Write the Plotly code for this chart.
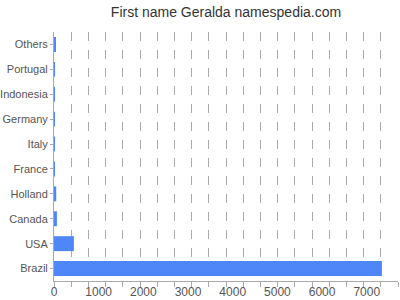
import plotly.graph_objects as go

categories = ["Brazil", "USA", "Canada", "Holland", "France", "Italy", "Germany", "Indonesia", "Portugal", "Others"]
values = [7340, 445, 65, 50, 15, 15, 10, 5, 5, 30]
tick_vals = [0, 1000, 2000, 3000, 4000, 5000, 6000, 7000]
tick_text = ["0", "1000", "2000", "3000", "4000", "5000", "6000", "7000"]

fig = go.Figure(go.Bar(
    x=values, y=categories, orientation="h",
    marker=dict(color="#4f87f8", line=dict(width=0)),
    width=0.6,
))

fig.update_layout(
    width=400, height=300,
    margin=dict(l=54, r=2, t=32, b=19),
    paper_bgcolor="white", plot_bgcolor="white",
    font=dict(family="Liberation Sans, Arial, sans-serif", size=12, color="#555"),
    title=dict(text="First name Geralda namespedia.com", x=0.5, xref="paper",
               y=1 - 12 / 300, yref="container", yanchor="middle",
               font=dict(size=14, color="#333")),
    showlegend=False,
    bargap=0.4,
)
fig.update_xaxes(
    range=[0, 7700], tickvals=tick_vals, ticktext=tick_text,
    showgrid=False, zeroline=False,
    showline=True, linecolor="#aaa", linewidth=1,
    ticks="", tickfont=dict(size=12, color="#555"),
    minor=dict(dtick=385, tick0=0, showgrid=True, griddash="dash",
               gridcolor="#aaa", gridwidth=1, ticks="outside", ticklen=5,
               tickcolor="#aaa"),
    automargin=False,
    fixedrange=True,
)
fig.update_yaxes(
    showgrid=False, zeroline=False,
    showline=True, linecolor="#aaa", linewidth=1,
    ticks="outside", ticklen=3, tickcolor="#aaa",
    tickfont=dict(size=11, color="#555"),
    categoryorder="array", categoryarray=categories,
    automargin=False,
    ticklabelstandoff=0,
    fixedrange=True,
)

fig.write_html("out.html")
